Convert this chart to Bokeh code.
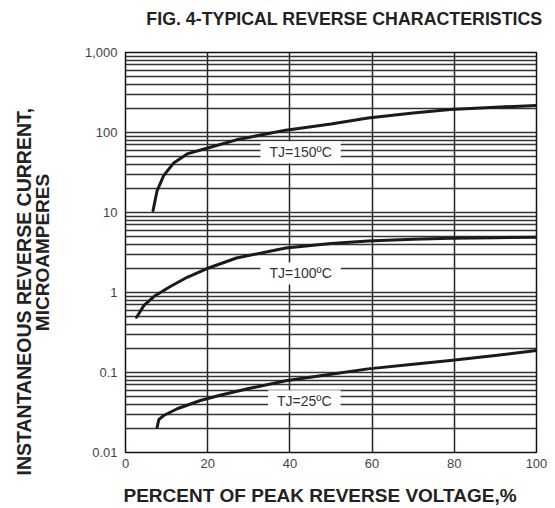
from bokeh.plotting import figure
from bokeh.models import Range1d, FixedTicker, CustomJSTickFormatter, Label, Title
from bokeh.embed import file_html
from bokeh.resources import INLINE

# ---- data ----
title_text = "FIG. 4-TYPICAL REVERSE CHARACTERISTICS"
x_label = "PERCENT OF PEAK REVERSE VOLTAGE,%"
y_label_lines = ["INSTANTANEOUS REVERSE CURRENT,", "MICROAMPERES"]

x_ticks = [0, 20, 40, 60, 80, 100]
y_ticks = [0.01, 0.1, 1, 10, 100, 1000]
y_tick_labels = ["0.01", "0.1", "1", "10", "100", "1,000"]

v150 = [6.7, 7.7, 9.3, 11.8, 15, 20, 27, 39, 50, 59, 70, 79, 90, 100]
i150 = [10.6, 18.8, 29, 42, 54, 64, 81, 107, 128, 152, 175, 194, 207, 218]

v100 = [2.7, 4.5, 6.9, 10.9, 15, 19.7, 27, 39, 50, 59, 70, 79, 90, 100]
i100 = [0.49, 0.69, 0.89, 1.19, 1.55, 1.98, 2.7, 3.6, 4.1, 4.4, 4.62, 4.77, 4.85, 4.9]

v25 = [7.7, 8.1, 9.3, 12.6, 18.2, 23, 30, 39, 50, 59, 70, 79, 90, 100]
i25 = [0.0207, 0.0257, 0.029, 0.0352, 0.0447, 0.052, 0.063, 0.079, 0.095, 0.111, 0.127, 0.141, 0.163, 0.188]

curve_labels = ["TJ=150ºC", "TJ=100ºC", "TJ=25ºC"]
label_x = [42.6, 42.6, 43.5]
label_y = [56.7, 1.73, 0.0437]

FONT = "Liberation Sans"

p = figure(width=548, height=506, output_backend="svg", toolbar_location=None,
           x_range=Range1d(0, 100), y_range=Range1d(0.01, 1000), y_axis_type="log",
           min_border_left=125, min_border_right=12, min_border_top=52, min_border_bottom=54,
           title=None)

p.outline_line_color = "#111111"
p.outline_line_width = 1.5
p.background_fill_color = "white"
p.border_fill_color = "white"

xax = p.xaxis[0]
yax = p.yaxis[0]

# axes
minor = [m * 10.0 ** e for e in range(-2, 3) for m in range(2, 10)]
yax.ticker = FixedTicker(ticks=y_ticks, minor_ticks=minor)
xax.ticker = FixedTicker(ticks=x_ticks)
yax.formatter = CustomJSTickFormatter(args=dict(vals=y_ticks, labs=y_tick_labels), code="""
    for (let i = 0; i < vals.length; i++) {
        if (Math.abs(Math.log10(vals[i]) - Math.log10(tick)) < 1e-6) return labs[i];
    }
    return "";
""")
for ax in (xax, yax):
    ax.axis_line_color = None
    ax.major_tick_line_color = None
    ax.minor_tick_line_color = None
    ax.major_tick_out = 0
    ax.major_tick_in = 0
    ax.minor_tick_out = 0
    ax.minor_tick_in = 0
    ax.major_label_text_font = FONT
    ax.major_label_text_font_size = "13px"
    ax.major_label_text_color = "#444444"
    ax.axis_label_text_font = FONT
    ax.axis_label_text_font_style = "bold"
    ax.axis_label_text_color = "#222222"

yax.major_label_standoff = 8
xax.major_label_standoff = 6

yax.axis_label = y_label_lines[1]
yax.axis_label_text_font_size = "19px"
yax.axis_label_standoff = 29


def spacer(size_px, standoff):
    # blank title used only to reserve space in a side panel
    return Title(text=" ", standoff=standoff, text_font=FONT, text_font_size=size_px)


def bold_title(text, size, align, offset, standoff=0):
    return Title(text=text, align=align, offset=offset, standoff=standoff,
                 text_font=FONT, text_font_size=size, text_font_style="bold",
                 text_color="#222222")


# outer line of the y-axis title
p.add_layout(bold_title(y_label_lines[0], "19.5px", "left", -23, standoff=-12), "left")

# x-axis title below the tick labels
p.add_layout(spacer("8px", 1), "below")
p.add_layout(bold_title(x_label, "19px", "left", -2), "below")

# chart title above the frame
p.add_layout(spacer("10px", 11), "above")
p.add_layout(bold_title(title_text, "17.8px", "right", -6), "above")

# grid
p.ygrid.grid_line_color = "#333333"
p.ygrid.grid_line_width = 1.4
p.ygrid.minor_grid_line_color = "#333333"
p.ygrid.minor_grid_line_width = 1.4
p.xgrid.grid_line_color = "#222222"
p.xgrid.grid_line_width = 1.5

# curves
for xs, ys in ((v150, i150), (v100, i100), (v25, i25)):
    p.line(xs, ys, line_color="#1a1a1a", line_width=3, line_cap="round", line_join="round")

# curve labels with white boxes
for t, lx, ly in zip(curve_labels, label_x, label_y):
    p.add_layout(Label(x=lx, y=ly, text=t, text_align="center", text_baseline="middle",
                       text_font=FONT, text_font_size="14px", text_color="#333333",
                       background_fill_color="white", padding=(9, 3)))

open("out.html", "w").write(file_html(p, INLINE))
